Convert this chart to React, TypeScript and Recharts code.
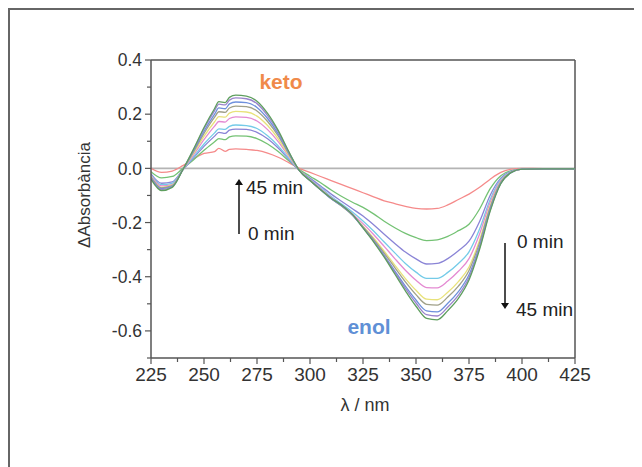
import React from 'react';
import { LineChart, Line, XAxis, YAxis, ReferenceLine } from 'recharts';

const wavelengths = [225, 230, 235, 240, 245, 250, 255, 257, 260, 262, 265, 270, 275, 280, 285, 290, 295,
  300, 305, 310, 315, 320, 325, 330, 335, 340, 345, 350, 355, 360, 365, 370, 375, 380, 385, 390, 395,
  400, 410, 425];

const s1 = [0.0, -0.015, -0.01, 0.01, 0.035, 0.055, 0.062, 0.074, 0.063, 0.07, 0.072, 0.07, 0.066, 0.056, 0.041, 0.021, 0.0,
  -0.015, -0.03, -0.045, -0.06, -0.075, -0.09, -0.105, -0.12, -0.13, -0.14, -0.148, -0.15, -0.148, -0.135, -0.115, -0.095, -0.07, -0.04, -0.015, -0.003,
  0.0, -0.001, -0.001];
const s2 = [-0.012, -0.035, -0.03, 0.0, 0.031, 0.067, 0.098, 0.11, 0.106, 0.116, 0.12, 0.119, 0.11, 0.09, 0.062, 0.028, -0.004,
  -0.029, -0.053, -0.08, -0.104, -0.125, -0.144, -0.168, -0.195, -0.219, -0.24, -0.256, -0.267, -0.264, -0.251, -0.23, -0.206, -0.15, -0.075, -0.027, -0.008,
  -0.003, -0.002, -0.002];
const s3 = [-0.02, -0.055, -0.05, -0.005, 0.038, 0.081, 0.119, 0.133, 0.129, 0.141, 0.145, 0.144, 0.133, 0.109, 0.075, 0.033, -0.008,
  -0.036, -0.065, -0.095, -0.122, -0.149, -0.176, -0.208, -0.243, -0.277, -0.309, -0.334, -0.353, -0.351, -0.333, -0.304, -0.269, -0.196, -0.099, -0.036, -0.01,
  -0.003, -0.002, -0.002];
const s4 = [-0.025, -0.06, -0.055, -0.005, 0.042, 0.09, 0.131, 0.146, 0.144, 0.155, 0.16, 0.158, 0.147, 0.12, 0.083, 0.037, -0.008,
  -0.04, -0.071, -0.104, -0.132, -0.161, -0.194, -0.231, -0.272, -0.312, -0.351, -0.383, -0.406, -0.406, -0.384, -0.351, -0.308, -0.224, -0.115, -0.041, -0.012,
  -0.003, -0.002, -0.002];
const s5 = [-0.028, -0.065, -0.06, -0.005, 0.049, 0.106, 0.156, 0.173, 0.171, 0.184, 0.19, 0.188, 0.175, 0.143, 0.099, 0.044, -0.008,
  -0.042, -0.074, -0.108, -0.137, -0.168, -0.204, -0.244, -0.288, -0.333, -0.376, -0.413, -0.44, -0.441, -0.416, -0.38, -0.333, -0.242, -0.125, -0.045, -0.013,
  -0.003, -0.002, -0.002];
const s6 = [-0.03, -0.07, -0.062, -0.005, 0.055, 0.118, 0.172, 0.191, 0.189, 0.204, 0.21, 0.208, 0.193, 0.158, 0.109, 0.048, -0.008,
  -0.044, -0.077, -0.111, -0.14, -0.172, -0.213, -0.257, -0.306, -0.357, -0.407, -0.45, -0.483, -0.485, -0.457, -0.418, -0.364, -0.264, -0.137, -0.049, -0.014,
  -0.003, -0.002, -0.002];
const s7 = [-0.032, -0.072, -0.064, -0.005, 0.06, 0.129, 0.189, 0.209, 0.207, 0.223, 0.23, 0.228, 0.212, 0.173, 0.12, 0.053, -0.008,
  -0.044, -0.078, -0.111, -0.139, -0.172, -0.216, -0.262, -0.313, -0.366, -0.419, -0.466, -0.502, -0.505, -0.475, -0.435, -0.377, -0.274, -0.143, -0.051, -0.014,
  -0.003, -0.002, -0.002];
const s8 = [-0.035, -0.075, -0.066, -0.005, 0.064, 0.137, 0.2, 0.223, 0.22, 0.238, 0.245, 0.243, 0.225, 0.184, 0.127, 0.056, -0.008,
  -0.045, -0.079, -0.112, -0.139, -0.172, -0.219, -0.267, -0.321, -0.378, -0.435, -0.486, -0.526, -0.53, -0.498, -0.455, -0.393, -0.286, -0.15, -0.054, -0.015,
  -0.003, -0.002, -0.002];
const s9 = [-0.037, -0.078, -0.068, -0.005, 0.068, 0.146, 0.213, 0.237, 0.234, 0.252, 0.26, 0.257, 0.239, 0.195, 0.135, 0.06, -0.008,
  -0.045, -0.079, -0.111, -0.137, -0.171, -0.219, -0.269, -0.324, -0.384, -0.443, -0.497, -0.54, -0.545, -0.512, -0.468, -0.403, -0.292, -0.154, -0.055, -0.015,
  -0.003, -0.002, -0.002];
const s10 = [-0.04, -0.082, -0.07, -0.005, 0.07, 0.151, 0.221, 0.246, 0.243, 0.262, 0.27, 0.267, 0.248, 0.203, 0.14, 0.062, -0.008,
  -0.045, -0.079, -0.11, -0.136, -0.17, -0.22, -0.271, -0.328, -0.39, -0.452, -0.509, -0.554, -0.559, -0.525, -0.48, -0.412, -0.299, -0.158, -0.057, -0.015,
  -0.003, -0.002, -0.002];

const seriesList = [s1, s2, s3, s4, s5, s6, s7, s8, s9, s10];
const seriesKeys = ['s1', 's2', 's3', 's4', 's5', 's6', 's7', 's8', 's9', 's10'];
const seriesColors = ['#f58a8a', '#74c274', '#8a84d6', '#74cbe8', '#e48ad2', '#e8e27a', '#a0a088', '#6e90dc', '#9a84cc', '#5e9e5e'];

const xTicks = [225, 237.5, 250, 262.5, 275, 287.5, 300, 312.5, 325, 337.5, 350, 362.5, 375, 387.5, 400, 412.5, 425];
const yTicks = [0.4, 0.3, 0.2, 0.1, 0.0, -0.1, -0.2, -0.3, -0.4, -0.5, -0.6, -0.7];

const data = wavelengths.map((wl, i) => {
  const row: Record<string, number> = { wl };
  seriesList.forEach((s, k) => { row[seriesKeys[k]] = s[i]; });
  return row;
});

const FONT = '"Liberation Sans", Arial, sans-serif';
const AXIS = '#555';

const YTick = (props: any) => {
  const { x, y, payload } = props;
  const v = payload.value as number;
  const major = Math.abs(Math.round(v * 10)) % 2 === 0;
  return (
    <g>
      <line x1={x - (major ? 6 : 4)} x2={x} y1={y} y2={y} stroke={AXIS} strokeWidth={1.2} />
      {major && (
        <text x={x - 9} y={y} dy="0.36em" textAnchor="end" fontSize={17.5} fill="#333" fontFamily={FONT}>
          {Math.abs(v) < 1e-9 ? '0.0' : v.toFixed(1)}
        </text>
      )}
    </g>
  );
};

const XTick = (props: any) => {
  const { x, y, payload } = props;
  const v = payload.value as number;
  const major = (v - 225) % 25 === 0;
  return (
    <g>
      <line x1={x} x2={x} y1={y} y2={y + (major ? 6 : 4)} stroke={AXIS} strokeWidth={1.2} />
      {major && (
        <text x={x} y={y + 10} dy="0.71em" textAnchor="middle" fontSize={19} fill="#333" fontFamily={FONT}>
          {v}
        </text>
      )}
    </g>
  );
};

export default function App() {
  return (
    <div style={{ position: 'relative', width: 632, height: 457, borderLeft: '2px solid #666', borderTop: '2px solid #666', background: '#fff' }}>
      <LineChart width={632} height={457} data={data} margin={{ top: 50, right: 67, bottom: 79, left: 81 }}>
        <XAxis dataKey="wl" type="number" domain={[225, 425]} ticks={xTicks} interval={0}
          tickSize={0} tickMargin={0} tickLine={false} tick={<XTick />} height={30}
          axisLine={{ stroke: AXIS, strokeWidth: 1.5 }} allowDataOverflow />
        <YAxis type="number" domain={[-0.7, 0.4]} ticks={yTicks} interval={0}
          tickSize={0} tickMargin={0} tickLine={false} tick={<YTick />} width={60}
          axisLine={{ stroke: AXIS, strokeWidth: 1.5 }} allowDataOverflow />
        <ReferenceLine y={0} stroke="#b4b4b4" strokeWidth={1.6} />
        <ReferenceLine y={0.4} stroke={AXIS} strokeWidth={1.5} />
        <ReferenceLine x={425} stroke={AXIS} strokeWidth={1.5} />
        {seriesKeys.map((k, i) => (
          <Line key={k} dataKey={k} type="monotone" stroke={seriesColors[i]} strokeWidth={1.3}
            dot={false} isAnimationActive={false} />
        ))}
      </LineChart>
      <svg width={642} height={467} style={{ position: 'absolute', left: -10, top: -10, pointerEvents: 'none' }}>
        <defs>
          <marker id="ah" markerWidth="6" markerHeight="8" refX="3" refY="4" orient="auto-start-reverse" markerUnits="userSpaceOnUse">
            <path d="M0,0 L6,4 L0,8 z" fill="#111" />
          </marker>
        </defs>
        <text x={84} y={195} transform="rotate(-90 84 195)" dy="0.36em" textAnchor="middle" fontSize={17} fill="#333" fontFamily={FONT}>ΔAbsorbància</text>
        <text x={365} y={405} dy="0.36em" textAnchor="middle" fontSize={18} fill="#333" fontFamily={FONT}>λ / nm</text>
        <text x={281} y={89} textAnchor="middle" fontSize={21} fontWeight="bold" fill="#f08a4a" fontFamily={FONT}>keto</text>
        <text x={369} y={334} textAnchor="middle" fontSize={21} fontWeight="bold" fill="#5f90d6" fontFamily={FONT}>enol</text>
        <line x1={239} y1={234} x2={239} y2={182} stroke="#111" strokeWidth={1.5} markerEnd="url(#ah)" />
        <text x={246} y={187} dy="0.36em" fontSize={19} fill="#222" fontFamily={FONT}>45 min</text>
        <text x={248} y={233} dy="0.36em" fontSize={19} fill="#222" fontFamily={FONT}>0 min</text>
        <line x1={505} y1={243} x2={505} y2={306} stroke="#111" strokeWidth={1.5} markerEnd="url(#ah)" />
        <text x={517} y={241} dy="0.36em" fontSize={19} fill="#222" fontFamily={FONT}>0 min</text>
        <text x={516} y={309} dy="0.36em" fontSize={19} fill="#222" fontFamily={FONT}>45 min</text>
      </svg>
    </div>
  );
}
